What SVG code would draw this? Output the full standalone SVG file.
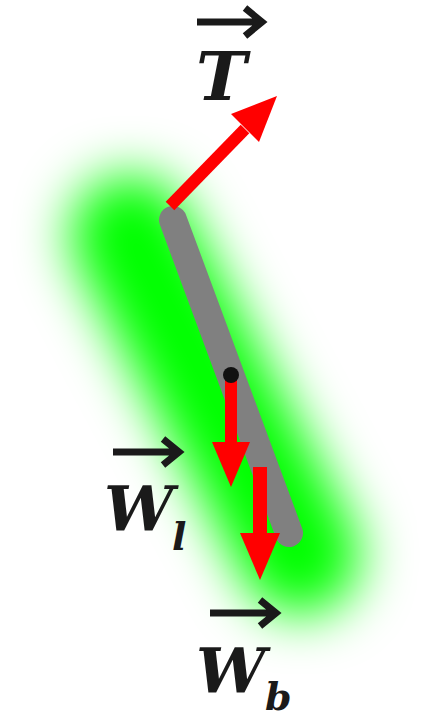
<svg xmlns="http://www.w3.org/2000/svg" width="431" height="721" viewBox="0 0 431 721">
<defs>
<filter id="blur" filterUnits="userSpaceOnUse" x="0" y="80" width="431" height="641"><feGaussianBlur stdDeviation="26"/></filter>
<style>
.lbl{font-family:"DejaVu Serif","Liberation Serif",serif;font-weight:bold;font-style:italic;fill:#1a1a1a}
.vec{fill:none;stroke:#1a1a1a;stroke-width:7}
.red{fill:#ff0000}
</style>
</defs>
<rect width="431" height="721" fill="#ffffff"/>
<g id="glow">
<line x1="130" y1="235" x2="300" y2="555" stroke="#00ff00" stroke-width="120" stroke-linecap="round" filter="url(#blur)"/>
</g>
<g id="rod">
<line x1="173" y1="220" x2="289" y2="533" stroke="#808080" stroke-width="28" stroke-linecap="round"/>
</g>
<g id="connectors">
<g id="arrowT">
<line x1="170" y1="206" x2="245" y2="129" stroke="#ff0000" stroke-width="12"/>
<polygon class="red" points="231,114 277,96 259,142"/>
</g>
<g id="arrowWl">
<rect class="red" x="225" y="375" width="12" height="70"/>
<polygon class="red" points="212,442 250,442 231,487"/>
</g>
<g id="arrowWb">
<rect class="red" x="253" y="467" width="14" height="70"/>
<polygon class="red" points="240,533 280,533 260,580"/>
</g>
</g>
<g id="pivot"><circle cx="231" cy="375" r="8" fill="#111111"/></g>
<g id="labelT">
<path class="vec" d="M197,22 H262 M245,8 L262,22 L245,36"/>
<text class="lbl" x="196" y="100" font-size="68">T</text>
</g>
<g id="labelWl">
<path class="vec" d="M113,452 H179 M163,439 L179,452 L163,465"/>
<text class="lbl" x="104" y="530" font-size="62">W</text>
<text class="lbl" x="172" y="550" font-size="38">l</text>
</g>
<g id="labelWb">
<path class="vec" d="M210,613 H276 M260,600 L276,613 L260,626"/>
<text class="lbl" x="196" y="692" font-size="62">W</text>
<text class="lbl" x="265" y="710" font-size="38">b</text>
</g>
</svg>
